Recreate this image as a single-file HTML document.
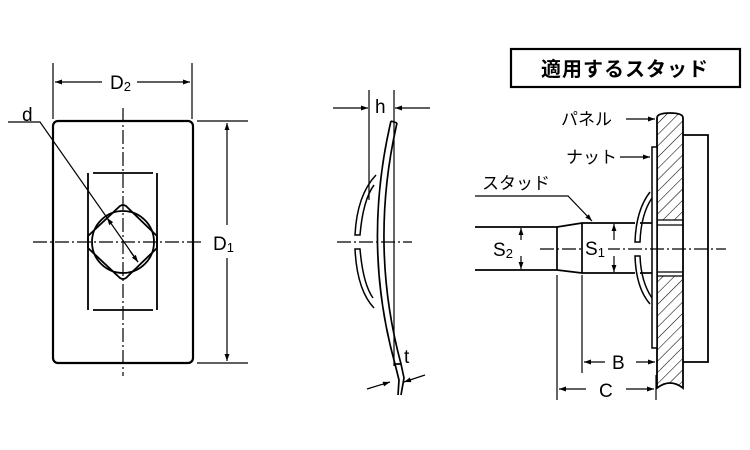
<!DOCTYPE html>
<html><head><meta charset="utf-8"><style>
html,body{margin:0;padding:0;background:#fff}
svg{display:block}
text{font-family:"Liberation Sans","Noto Sans CJK JP",sans-serif;fill:#000}
</style></head><body>
<svg width="750" height="450" viewBox="0 0 750 450" xmlns="http://www.w3.org/2000/svg">
<defs>
<marker id="a" viewBox="0 0 10 10" refX="10" refY="5" markerWidth="10" markerHeight="7" orient="auto-start-reverse" markerUnits="userSpaceOnUse"><path d="M0,1.5 L10,5 L0,8.5 z" fill="#000"/></marker>
<pattern id="h" width="8" height="8" patternUnits="userSpaceOnUse" patternTransform="rotate(45)"><line x1="0" y1="0" x2="0" y2="8" stroke="#000" stroke-width="1.1"/></pattern>
<clipPath id="pc"><path d="M657,118 Q657,113 670,113 Q683,113 683,118 L683,388 Q670,378 657,388 Z"/></clipPath>
</defs>
<g fill="none" stroke="#000" stroke-width="1.2">
<!-- LEFT VIEW -->
<rect x="53" y="121" width="140" height="242" rx="5" stroke-width="2.2"/>
<line x1="53" y1="63" x2="53" y2="119"/>
<line x1="192" y1="63" x2="192" y2="119"/>
<line x1="102" y1="82" x2="55" y2="82" marker-end="url(#a)"/>
<line x1="137" y1="82" x2="190" y2="82" marker-end="url(#a)"/>
<line x1="123" y1="108" x2="123" y2="376" stroke-dasharray="14,3,2,3"/>
<line x1="33" y1="242" x2="203" y2="242" stroke-dasharray="14,3,2,3"/>
<line x1="88" y1="173" x2="88" y2="310" stroke-width="1.8"/>
<line x1="157" y1="173" x2="157" y2="310" stroke-width="1.8"/>
<line x1="93" y1="173" x2="153" y2="173" stroke-width="1.8"/>
<line x1="93" y1="310" x2="153" y2="310" stroke-width="1.8"/>
<path d="M120,206 Q123,204 126,206 L157,236 L157,248 L126,278 Q123,280 120,278 L88,248 L88,236 Z" stroke-width="1.8"/>
<circle cx="123" cy="242" r="31" stroke-width="1.8"/>
<polyline points="8,122 40,122 138,262" />
<line x1="110" y1="222" x2="107" y2="218" marker-end="url(#a)"/>
<line x1="130" y1="251" x2="138" y2="262" marker-end="url(#a)"/>
<line x1="197" y1="121" x2="248" y2="121"/>
<line x1="197" y1="363" x2="248" y2="363"/>
<line x1="227" y1="225" x2="227" y2="123" marker-end="url(#a)"/>
<line x1="227" y1="258" x2="227" y2="361" marker-end="url(#a)"/>
<!-- MIDDLE VIEW -->
<line x1="369" y1="90" x2="369" y2="200"/>
<line x1="394" y1="90" x2="394" y2="366"/>
<line x1="333" y1="108" x2="368" y2="108" marker-end="url(#a)"/>
<line x1="430" y1="108" x2="395" y2="108" marker-end="url(#a)"/>
<line x1="337" y1="242" x2="412" y2="242" stroke-dasharray="14,3,2,3"/>
<path d="M391,121 Q362,245 395,364 L399,380 L398,395" stroke-width="1.7"/>
<path d="M397,123 Q369,245 401,364 L404,378 L401,395" stroke-width="1.7"/>
<line x1="391" y1="121" x2="397" y2="123" stroke-width="1.7"/>
<line x1="395" y1="364" x2="401" y2="364" stroke-width="1.7"/>
<path d="M376,175 Q357,195 355,235 L360,235 Q363,200 374,185" stroke-width="1.5"/>
<path d="M374,308 Q357,290 355,249 L360,249 Q363,284 373,298" stroke-width="1.5"/>
<line x1="367" y1="389" x2="390" y2="382" marker-end="url(#a)"/>
<line x1="425" y1="375" x2="404" y2="382" marker-end="url(#a)"/>
<!-- RIGHT VIEW -->
<rect x="511" y="49" width="229" height="38" stroke-width="2.2"/>
<rect x="657" y="113" width="26" height="276" fill="url(#h)" stroke="none" clip-path="url(#pc)"/>
<rect x="657" y="220" width="26" height="56" fill="#fff" stroke="none"/>
<path d="M657,118 Q657,113 670,113 Q683,113 683,118 L683,388 Q670,378 657,388 Z" stroke-width="1.8"/>
<line x1="657" y1="220" x2="683" y2="220"/><line x1="657" y1="225" x2="683" y2="225"/>
<line x1="657" y1="272" x2="683" y2="272"/><line x1="657" y1="276" x2="683" y2="276"/>
<polyline points="683,135 708,135 708,362 683,362" stroke-width="1.8"/>
<rect x="652" y="147" width="5" height="201" fill="#fff" stroke-width="1.5"/>
<path d="M650,192 Q636,210 635,242 L640,242 Q641,214 652,198" stroke-width="1.5"/>
<path d="M650,304 Q636,288 635,256 L640,256 Q641,282 652,298" stroke-width="1.5"/>
<polyline points="475,227 557,227 582,223 635,223" stroke-width="1.7"/>
<polyline points="475,270 557,270 582,273 635,273" stroke-width="1.7"/>
<line x1="640" y1="223" x2="652" y2="223" stroke-width="1.7"/>
<line x1="640" y1="273" x2="652" y2="273" stroke-width="1.7"/>
<line x1="557" y1="227" x2="557" y2="270" stroke-width="1.7"/>
<line x1="582" y1="223" x2="582" y2="273" stroke-width="1.7"/>
<line x1="540" y1="249" x2="726" y2="249" stroke-dasharray="14,3,2,3"/>
<line x1="521" y1="240" x2="521" y2="228" marker-end="url(#a)"/>
<line x1="521" y1="256" x2="521" y2="269" marker-end="url(#a)"/>
<line x1="614" y1="240" x2="614" y2="224" marker-end="url(#a)"/>
<line x1="614" y1="256" x2="614" y2="272" marker-end="url(#a)"/>
<line x1="582" y1="275" x2="582" y2="373"/>
<line x1="557" y1="275" x2="557" y2="400"/>
<line x1="656" y1="375" x2="656" y2="400"/>
<line x1="605" y1="362" x2="584" y2="362" marker-end="url(#a)"/>
<line x1="636" y1="362" x2="655" y2="362" marker-end="url(#a)"/>
<line x1="586" y1="389" x2="559" y2="389" marker-end="url(#a)"/>
<line x1="626" y1="389" x2="654" y2="389" marker-end="url(#a)"/>
<line x1="626" y1="119" x2="655" y2="119" marker-end="url(#a)"/>
<line x1="620" y1="157" x2="650" y2="157" marker-end="url(#a)"/>
<polyline points="475,196 568,196 592,221" marker-end="url(#a)"/>
</g>
<rect x="584" y="236" width="24" height="22" fill="#fff"/>
<rect x="211" y="230" width="30" height="24" fill="#fff"/>
<text x="110" y="89" font-size="19">D<tspan font-size="13" dy="2">2</tspan></text>
<text x="22" y="121" font-size="19">d</text>
<text x="213" y="250" font-size="19">D<tspan font-size="13" dy="2">1</tspan></text>
<text x="375" y="113" font-size="19">h</text>
<text x="404" y="363" font-size="19">t</text>
<text x="625" y="76" font-size="20" text-anchor="middle" font-weight="bold" letter-spacing="1">適用するスタッド</text>
<text x="561" y="125" font-size="17">パネル</text>
<text x="566" y="163" font-size="17">ナット</text>
<text x="482" y="189" font-size="17">スタッド</text>
<text x="493" y="256" font-size="19">S<tspan font-size="13" dy="2">2</tspan></text>
<text x="585" y="255" font-size="19">S<tspan font-size="13" dy="2">1</tspan></text>
<text x="612" y="369" font-size="19">B</text>
<text x="599" y="397" font-size="19">C</text>
</svg>
</body></html>
